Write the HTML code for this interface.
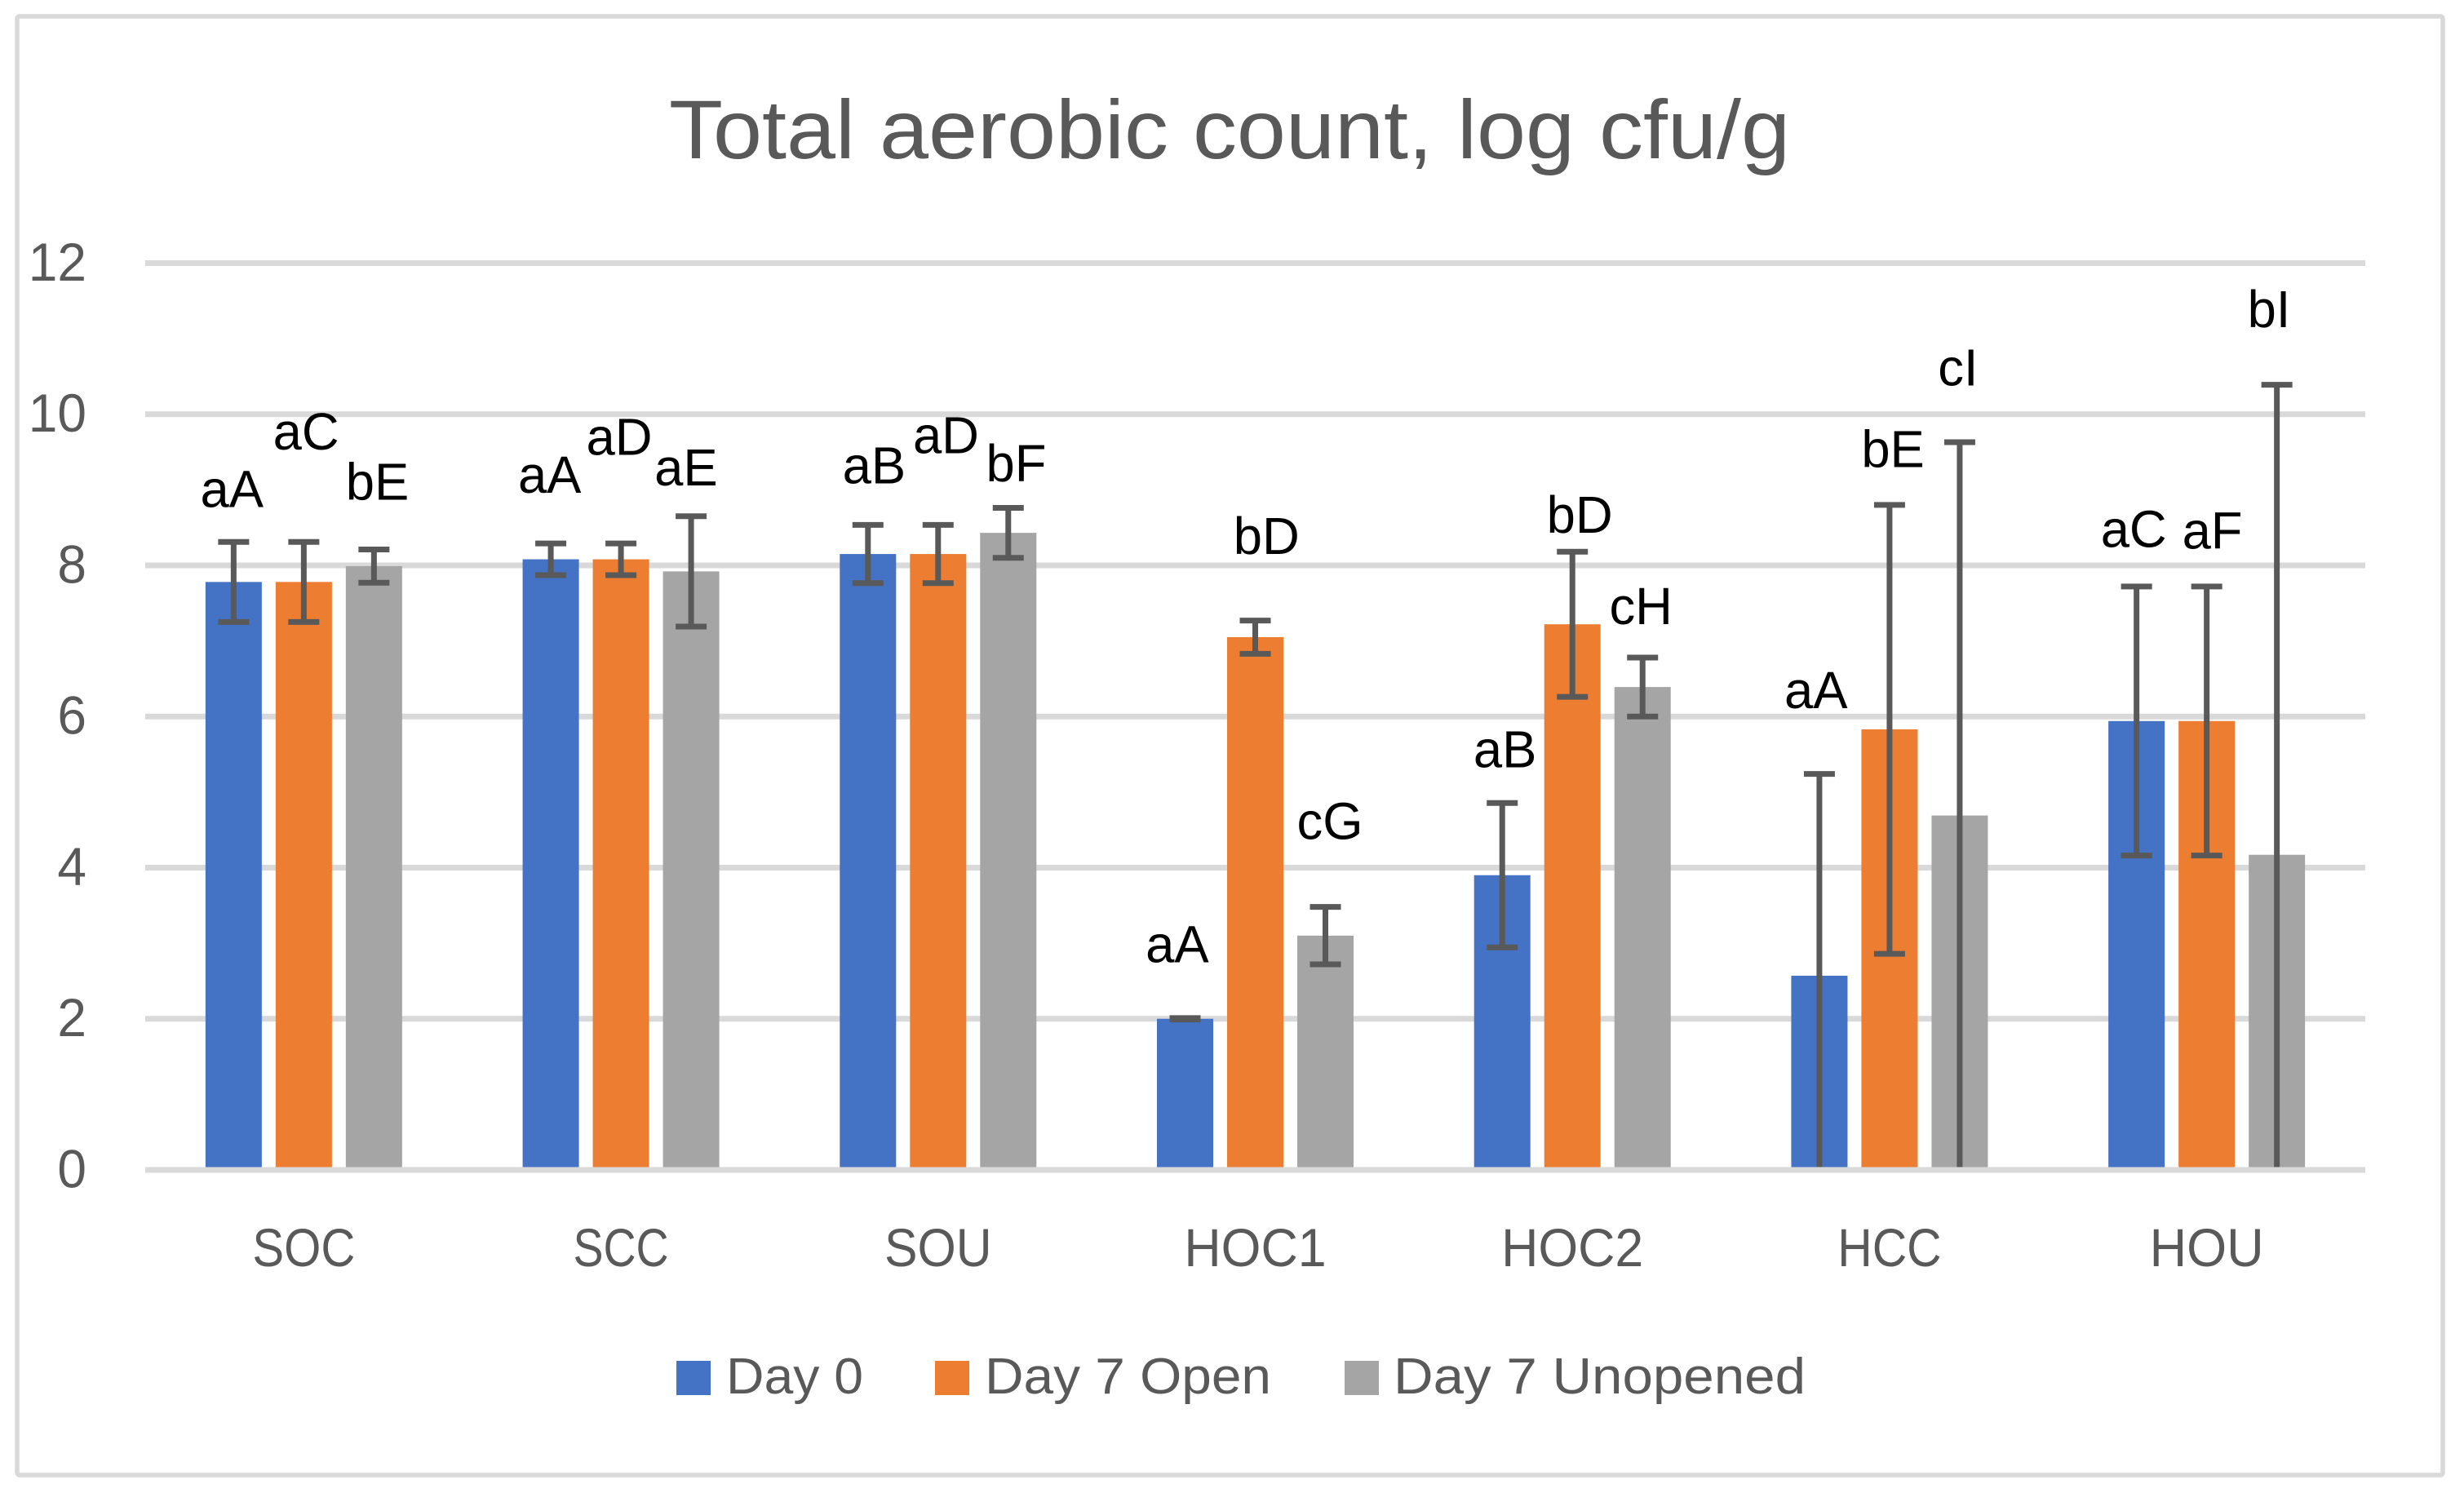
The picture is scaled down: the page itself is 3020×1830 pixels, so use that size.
<!DOCTYPE html>
<html lang="en">
<head>
<meta charset="utf-8">
<title>Total aerobic count, log cfu/g</title>
<style>
html,body{margin:0;padding:0;background:#fff;width:3020px;height:1830px;overflow:hidden}
svg{display:block}
text{font-family:"Liberation Sans",sans-serif}
</style>
</head>
<body>
<svg id="chart" xmlns="http://www.w3.org/2000/svg" width="3020" height="1830" viewBox="0 0 3020 1830">
  <rect x="21" y="20" width="2973" height="1788" rx="3" fill="#fff" stroke="#D9D9D9" stroke-width="5.5"/>
  <text x="820" y="194" font-size="102" fill="#595959" textLength="1374" lengthAdjust="spacingAndGlyphs">Total aerobic count, log cfu/g</text>
  <g id="grid"></g>
  <g id="yticks"></g>
  <g id="bars"></g>
  <g id="errors"></g>
  <g id="axis"></g>
  <g id="xticks"></g>
  <g id="labels"></g>
  <g>
    <rect x="829" y="1668" width="42" height="42" fill="#4472C4"/>
    <text x="890" y="1708" font-size="62" fill="#595959" textLength="168" lengthAdjust="spacingAndGlyphs">Day 0</text>
    <rect x="1146" y="1668" width="42" height="42" fill="#ED7D31"/>
    <text x="1207" y="1708" font-size="62" fill="#595959" textLength="351" lengthAdjust="spacingAndGlyphs">Day 7 Open</text>
    <rect x="1648" y="1668" width="42" height="42" fill="#A5A5A5"/>
    <text x="1708" y="1708" font-size="62" fill="#595959" textLength="505" lengthAdjust="spacingAndGlyphs">Day 7 Unopened</text>
  </g>
</svg>
<script>
const categories = ['SOC','SCC','SOU','HOC1','HOC2','HCC','HOU'];
const yTickLabels = ['0','2','4','6','8','10','12'];

const day0Values        = [7.78, 8.08, 8.15, 2.00, 3.90, 2.57, 5.94];
const day7OpenValues    = [7.78, 8.08, 8.15, 7.05, 7.22, 5.83, 5.94];
const day7UnopenedValues= [7.99, 7.92, 8.43, 3.10, 6.39, 4.69, 4.17];

const day0Errors        = [0.53, 0.21, 0.385, 0.01, 0.955, 2.67, 1.78];
const day7OpenErrors    = [0.53, 0.21, 0.385, 0.22, 0.96, 2.97, 1.78];
const day7UnopenedErrors= [0.22, 0.73, 0.33, 0.38, 0.39, 4.94, 6.22];

const day0Letters         = ['aA','aA','aB','aA','aB','aA','aC'];
const day7OpenLetters     = ['aC','aD','aD','bD','bD','bE','aF'];
const day7UnopenedLetters = ['bE','aE','bF','cG','cH','cI','bI'];

/* height of each significance letter above its error bar, in log cfu/g */
const day0LetterLift         = [0.46, 0.67, 0.55, 0.74, 0.47, 0.87, 0.52];
const day7OpenLetterLift     = [1.22, 1.17, 0.95, 0.88, 0.25, 0.50, 0.50];
const day7UnopenedLetterLift = [0.66, 0.41, 0.35, 0.90, 0.44, 0.75, 0.76];

/* sideways drift of each letter, in bar widths */
const day0LetterDrift         = [-0.03, -0.02, 0.11, -0.14, 0.05, -0.06, -0.05];
const day7OpenLetterDrift     = [0.04, -0.03, 0.14, 0.2, 0.13, 0.06, 0.1];
const day7UnopenedLetterDrift = [0.06, -0.09, 0.14, 0.08, -0.03, -0.03, -0.14];

const NS = 'http://www.w3.org/2000/svg';
const plot = {left:178, right:2899, zero:1434, unit:92.63};
const barW = 69, barPitch = 86;
const yScale = v => plot.zero - v * plot.unit;
const step = (plot.right - plot.left) / categories.length;
const xBand = i => plot.left + step * (i + 0.5);
const xBar = (i, s) => xBand(i) + (s - 1) * barPitch;

function mk(parent, tag, attrs, content) {
  const el = document.createElementNS(NS, tag);
  for (const k in attrs) el.setAttribute(k, attrs[k]);
  if (content !== undefined) el.textContent = content;
  parent.appendChild(el);
  return el;
}
function condense(el, ratio) {
  el.setAttribute('textLength', (el.getComputedTextLength() * ratio).toFixed(1));
  el.setAttribute('lengthAdjust', 'spacingAndGlyphs');
}

const gridG = document.getElementById('grid');
const yG = document.getElementById('yticks');
yTickLabels.forEach(t => {
  const v = parseFloat(t);
  if (v !== 0) {
    const line = mk(gridG, 'line', {x1:plot.left, x2:plot.right, y1:yScale(v), y2:yScale(v), stroke:'#D9D9D9', 'stroke-width':7});
    
    
  }
  const label = mk(yG, 'text', {x:106, y:yScale(v) + 21.5, 'font-size':66, fill:'#595959', 'text-anchor':'end'}, t);
  
  
  condense(label, 0.97);
});

const seriesNames = ['day-0','day-7-open','day-7-unopened'];
const seriesColors = ['#4472C4','#ED7D31','#A5A5A5'];
const seriesValues = [day0Values, day7OpenValues, day7UnopenedValues];
const seriesErrors = [day0Errors, day7OpenErrors, day7UnopenedErrors];
const seriesLetters = [day0Letters, day7OpenLetters, day7UnopenedLetters];
const seriesLift = [day0LetterLift, day7OpenLetterLift, day7UnopenedLetterLift];
const seriesDrift = [day0LetterDrift, day7OpenLetterDrift, day7UnopenedLetterDrift];

const barsG = document.getElementById('bars');
const errG = document.getElementById('errors');
const labG = document.getElementById('labels');
const capW = 38, errStroke = 7;

seriesValues.forEach((vals, s) => {
  vals.forEach((v, i) => {
    const cx = xBar(i, s);
    const bar = mk(barsG, 'rect', {x:cx - barW/2, y:yScale(v), width:barW, height:plot.zero - yScale(v), fill:seriesColors[s]});
    
    

    const e = seriesErrors[s][i];
    const hi = v + e, lo = Math.max(0, v - e);
    const stem = mk(errG, 'line', {x1:cx, x2:cx, y1:yScale(hi), y2:yScale(lo), stroke:'#595959', 'stroke-width':errStroke});
    
    
    const capHi = mk(errG, 'line', {x1:cx - capW/2, x2:cx + capW/2, y1:yScale(hi), y2:yScale(hi), stroke:'#595959', 'stroke-width':errStroke});
    
    
    if (v - e > 0) {
      const capLo = mk(errG, 'line', {x1:cx - capW/2, x2:cx + capW/2, y1:yScale(lo), y2:yScale(lo), stroke:'#595959', 'stroke-width':errStroke});
      
      
    }

    const lx = cx + seriesDrift[s][i] * barW;
    const ly = yScale(hi + seriesLift[s][i]);
    const lab = mk(labG, 'text', {x:lx, y:ly, 'font-size':64, fill:'#000', 'text-anchor':'middle'}, seriesLetters[s][i]);
    
    
    condense(lab, 0.99);
  });
});

const axisLine = mk(document.getElementById('axis'), 'line', {x1:plot.left, x2:plot.right, y1:plot.zero, y2:plot.zero, stroke:'#D9D9D9', 'stroke-width':7});



/* how much each Liberation Sans category name is narrowed to fill the original label's span */
const xLabelFit = {SOC:0.88, SCC:0.84, SOU:0.92, HOC1:0.95, HOC2:0.95, HCC:0.89, HOU:0.955};
const xG = document.getElementById('xticks');
categories.forEach((c, i) => {
  const t = mk(xG, 'text', {x:xBand(i), y:1552, 'font-size':66, fill:'#595959', 'text-anchor':'middle'}, c);
  
  
  condense(t, xLabelFit[c]);
});
</script>
</body>
</html>
